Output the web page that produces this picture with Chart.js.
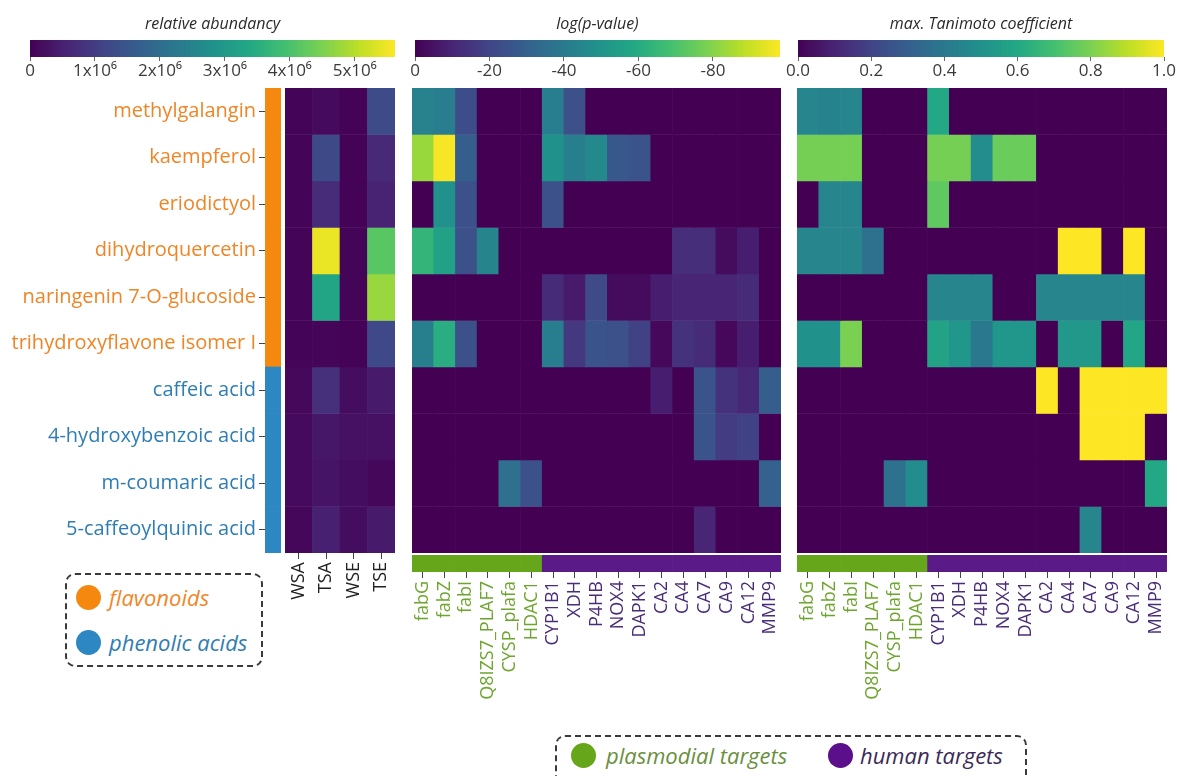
<!DOCTYPE html>
<html>
<head>
<meta charset="utf-8">
<script src="https://cdn.jsdelivr.net/npm/chart.js@4.4.0/dist/chart.umd.min.js"></script>
<style>
  html, body { margin: 0; padding: 0; background: #fff; width: 1177px; height: 776px; overflow: hidden;
    font-family: 'Open Sans', sans-serif; }
  canvas { position: absolute; }
  .legend { position: absolute; border: 2px dashed #3a3a3a; border-radius: 10px; box-sizing: border-box; }
  .dot { position: absolute; border-radius: 50%; }
  .lbl { position: absolute; font-style: italic; white-space: nowrap; }
</style>
</head>
<body>
<div class="legend" style="left:65px;top:573px;width:198px;height:94px;"></div>
<div class="dot" style="left:76px;top:585px;width:25px;height:25px;background:#f5890f;"></div>
<div class="lbl" style="left:109px;top:582px;line-height:30px;font-size:22px;color:#f0872a;">flavonoids</div>
<div class="dot" style="left:76px;top:630px;width:25px;height:25px;background:#2d87c2;"></div>
<div class="lbl" style="left:109px;top:627px;line-height:30px;font-size:22px;color:#2f7db0;">phenolic acids</div>

<div class="legend" style="left:555px;top:735px;width:472px;height:70px;"></div>
<div class="dot" style="left:571px;top:743px;width:25px;height:25px;background:#66a61a;"></div>
<div class="lbl" style="left:606px;top:740px;line-height:30px;font-size:22px;color:#6a8f3d;">plasmodial targets</div>
<div class="dot" style="left:828px;top:743px;width:25px;height:25px;background:#5c0f8b;"></div>
<div class="lbl" style="left:860px;top:740px;line-height:30px;font-size:22px;color:#3b2a58;">human targets</div>

<script>
// ---- compounds (rows) ----
const compounds = ['methylgalangin', 'kaempferol', 'eriodictyol', 'dihydroquercetin',
  'naringenin 7-O-glucoside', 'trihydroxyflavone isomer I', 'caffeic acid',
  '4-hydroxybenzoic acid', 'm-coumaric acid', '5-caffeoylquinic acid'];
const compoundClass = ['flavonoid', 'flavonoid', 'flavonoid', 'flavonoid', 'flavonoid', 'flavonoid',
  'phenolic', 'phenolic', 'phenolic', 'phenolic'];

// ---- extracts (left panel columns) ----
const extracts = ['WSA', 'TSA', 'WSE', 'TSE'];
const abundWSA = [0.05e6, 0.05e6, 0.05e6, 0.05e6, 0.05e6, 0.05e6, 0.12e6, 0.15e6, 0.15e6, 0.10e6];
const abundTSA = [0.15e6, 1.25e6, 0.70e6, 5.45e6, 3.30e6, 0.08e6, 0.75e6, 0.35e6, 0.30e6, 0.50e6];
const abundWSE = [0.03e6, 0.03e6, 0.03e6, 0.05e6, 0.05e6, 0.03e6, 0.20e6, 0.25e6, 0.20e6, 0.20e6];
const abundTSE = [1.30e6, 0.65e6, 0.55e6, 4.15e6, 4.75e6, 1.20e6, 0.40e6, 0.25e6, 0.10e6, 0.40e6];
const abundMax = 5.62e6;
const abundTicks = [0, 1e6, 2e6, 3e6, 4e6, 5e6];

// ---- targets (middle / right panel columns) ----
const targets = ['fabG', 'fabZ', 'fabI', 'Q8IZS7_PLAF7', 'CYSP_plafa', 'HDAC1', 'CYP1B1', 'XDH',
  'P4HB', 'NOX4', 'DAPK1', 'CA2', 'CA4', 'CA7', 'CA9', 'CA12', 'MMP9'];
const targetGroup = ['plasmodial', 'plasmodial', 'plasmodial', 'plasmodial', 'plasmodial', 'plasmodial',
  'human', 'human', 'human', 'human', 'human', 'human', 'human', 'human', 'human', 'human', 'human'];

// log(p-value) per compound, in target order
const logP_methylgalangin   = [-43, -41, -23, 0, 0, 0, -41, -24, 0, 0, 0, 0, 0, 0, 0, 0, 0];
const logP_kaempferol       = [-83, -97, -29, 0, 0, 0, -49, -42, -46, -27, -25, 0, 0, 0, 0, 0, 0];
const logP_eriodictyol      = [0, -49, -24, 0, 0, 0, -24, 0, 0, 0, 0, 0, 0, 0, 0, 0, 0];
const logP_dihydroquercetin = [-64, -56, -24, -44, 0, 0, 0, 0, 0, 0, 0, 0, -13, -13, -3, -8, 0];
const logP_naringeninGluc   = [0, 0, 0, 0, 0, 0, -12, -7, -22, -3, -3, -8, -10, -10, -10, -12, 0];
const logP_trihydroxyflav   = [-42, -61, -24, 0, 0, 0, -41, -16, -25, -24, -19, -2, -14, -12, -2, -8, 0];
const logP_caffeic          = [0, 0, 0, 0, 0, 0, 0, 0, 0, 0, 0, -8, 0, -25, -14, -11, -29];
const logP_hydroxybenzoic   = [0, 0, 0, 0, 0, 0, 0, 0, 0, 0, 0, 0, 0, -25, -17, -19, 0];
const logP_mCoumaric        = [0, 0, 0, 0, -36, -24, 0, 0, 0, 0, 0, 0, 0, 0, 0, 0, -30];
const logP_caffeoylquinic   = [0, 0, 0, 0, 0, 0, 0, 0, 0, 0, 0, 0, 0, -10, 0, 0, 0];
const logPMin = -98;
const logPTicks = [0, -20, -40, -60, -80];

// max. Tanimoto coefficient per compound, in target order
const tani_methylgalangin   = [0.45, 0.44, 0.45, 0, 0, 0, 0.60, 0, 0, 0, 0, 0, 0, 0, 0, 0, 0];
const tani_kaempferol       = [0.79, 0.79, 0.79, 0, 0, 0, 0.79, 0.79, 0.48, 0.77, 0.77, 0, 0, 0, 0, 0, 0];
const tani_eriodictyol      = [0, 0.45, 0.45, 0, 0, 0, 0.75, 0, 0, 0, 0, 0, 0, 0, 0, 0, 0];
const tani_dihydroquercetin = [0.45, 0.45, 0.45, 0.37, 0, 0, 0, 0, 0, 0, 0, 0, 1, 1, 0, 1, 0];
const tani_naringeninGluc   = [0, 0, 0, 0, 0, 0, 0.45, 0.45, 0.45, 0, 0, 0.45, 0.45, 0.45, 0.45, 0.45, 0];
const tani_trihydroxyflav   = [0.50, 0.50, 0.80, 0, 0, 0, 0.58, 0.52, 0.40, 0.52, 0.52, 0, 0.53, 0.53, 0, 0.59, 0];
const tani_caffeic          = [0, 0, 0, 0, 0, 0, 0, 0, 0, 0, 0, 1, 0, 1, 1, 1, 1];
const tani_hydroxybenzoic   = [0, 0, 0, 0, 0, 0, 0, 0, 0, 0, 0, 0, 0, 1, 1, 1, 0];
const tani_mCoumaric        = [0, 0, 0, 0, 0.37, 0.48, 0, 0, 0, 0, 0, 0, 0, 0, 0, 0, 0.60];
const tani_caffeoylquinic   = [0, 0, 0, 0, 0, 0, 0, 0, 0, 0, 0, 0, 0, 0.45, 0, 0, 0];
const taniTicks = [0, 0.2, 0.4, 0.6, 0.8, 1.0];

// ---- assembled matrices (rows = compounds) ----
const abundRows = compounds.map((_, r) => [abundWSA[r], abundTSA[r], abundWSE[r], abundTSE[r]]);
const logPRows = [logP_methylgalangin, logP_kaempferol, logP_eriodictyol, logP_dihydroquercetin,
  logP_naringeninGluc, logP_trihydroxyflav, logP_caffeic, logP_hydroxybenzoic, logP_mCoumaric, logP_caffeoylquinic];
const taniRows = [tani_methylgalangin, tani_kaempferol, tani_eriodictyol, tani_dihydroquercetin,
  tani_naringeninGluc, tani_trihydroxyflav, tani_caffeic, tani_hydroxybenzoic, tani_mCoumaric, tani_caffeoylquinic];

// ---- colours ----
const VIRIDIS = ['#440154', '#482475', '#414487', '#355f8d', '#2a788e', '#21918c',
  '#22a884', '#44bf70', '#7ad151', '#bddf26', '#fde725'];
function hexRgb(h) { return [1, 3, 5].map(i => parseInt(h.slice(i, i + 2), 16)); }
function viridis(t) {
  t = Math.max(0, Math.min(1, t));
  const p = t * 10, i = Math.min(9, Math.floor(p)), f = p - i;
  const a = hexRgb(VIRIDIS[i]), b = hexRgb(VIRIDIS[i + 1]);
  const c = a.map((v, k) => Math.round(v + (b[k] - v) * f));
  return `rgb(${c[0]},${c[1]},${c[2]})`;
}
const CLASS_COLOR = { flavonoid: '#f5890f', phenolic: '#2d87c2' };
const CLASS_TEXT = { flavonoid: '#ef8526', phenolic: '#2e7db3' };
const GROUP_COLOR = { plasmodial: '#66a61a', human: '#5a1a88' };
const GROUP_TEXT = { plasmodial: '#6ea52e', human: '#4a2d7a' };

Chart.defaults.font.family = "'Open Sans', sans-serif";
Chart.defaults.animation = false;
Chart.defaults.plugins.legend.display = false;
Chart.defaults.plugins.tooltip.enabled = false;

function makeCanvas(left, top, width, height) {
  const c = document.createElement('canvas');
  c.width = width; c.height = height;
  c.style.left = left + 'px'; c.style.top = top + 'px';
  c.style.width = width + 'px'; c.style.height = height + 'px';
  document.body.appendChild(c);
  return c;
}

// ---- colour bars ----
const colorbarFill = {
  id: 'colorbarFill',
  beforeDatasetsDraw(chart) {
    const { ctx, chartArea: a } = chart;
    const g = ctx.createLinearGradient(a.left, 0, a.right, 0);
    VIRIDIS.forEach((c, i) => g.addColorStop(i / (VIRIDIS.length - 1), c));
    ctx.save();
    ctx.fillStyle = g;
    ctx.fillRect(a.left, a.top, a.right - a.left, a.bottom - a.top);
    ctx.restore();
  }
};

function colorbar(barLeft, barRight, title, min, max, reverse, tickVals, fmt) {
  const pad = 22;
  const c = makeCanvas(barLeft - pad, 0, barRight - barLeft + 2 * pad, 92);
  new Chart(c, {
    type: 'scatter',
    data: { datasets: [] },
    plugins: [colorbarFill],
    options: {
      responsive: false,
      devicePixelRatio: 1,
      layout: { padding: { left: pad, right: pad, top: 0, bottom: 0 } },
      plugins: {
        title: { display: true, text: title, color: '#2a2a2a',
          font: { size: 16, style: 'italic', weight: 'normal', lineHeight: 1.2 },
          padding: { top: 14.4, bottom: 6.4 } }
      },
      scales: {
        y: { display: false, min: 0, max: 1 },
        x: {
          type: 'linear', min: min, max: max, reverse: reverse,
          border: { display: false },
          grid: { display: true, drawOnChartArea: false, drawTicks: true, tickLength: 4, color: '#666' },
          afterBuildTicks: s => { s.ticks = tickVals.map(v => ({ value: v })); },
          afterFit: s => { s.height = 35; },
          ticks: { color: '#3a3a3a', font: { size: 17 }, padding: 0, maxRotation: 0, autoSkip: false,
            callback: v => fmt(v) }
        }
      }
    }
  });
}
colorbar(30, 395, 'relative abundancy', 0, abundMax, false, abundTicks,
  v => v === 0 ? '0' : (v / 1e6) + 'x10\u2076');
colorbar(415, 780, 'log(p-value)', logPMin, 0, true, logPTicks, v => String(v));
colorbar(798, 1164, 'max. Tanimoto coefficient', 0, 1, false, taniTicks, v => v.toFixed(1));

// ---- heatmap cells: one floating-bar dataset per compound row ----
function heatDatasets(rows, colourOf) {
  return rows.map((vals, r) => ({
    data: vals.map(() => [r, r + 1]),
    backgroundColor: vals.map(v => colourOf(v)),
    borderWidth: 0,
    barPercentage: 1,
    categoryPercentage: 1,
    grouped: false
  }));
}

const SIDE = 20; // spare canvas room left/right for rotated tick labels

function heatmap(left, top, width, height, labels, rows, colourOf, xAxis) {
  const axisH = xAxis ? xAxis.height : 0;
  const c = makeCanvas(left - SIDE, top, width + 2 * SIDE, height + axisH);
  new Chart(c, {
    type: 'bar',
    data: { labels: labels, datasets: heatDatasets(rows, colourOf) },
    options: {
      responsive: false,
      devicePixelRatio: 1,
      layout: { padding: { left: SIDE, right: SIDE, top: 0, bottom: 0 } },
      scales: {
        y: { display: false, min: 0, max: rows.length, reverse: true },
        x: xAxis ? {
          border: { display: false },
          grid: { display: true, drawOnChartArea: false, offset: false, tickLength: 6, color: '#444' },
          afterFit: s => { s.height = axisH; },
          ticks: { color: '#222', font: { size: 18 }, padding: 3, minRotation: 90, maxRotation: 90, autoSkip: false }
        } : { display: false }
      }
    }
  });
}

const TOP = 88, H = 465;

// left panel: compound names + class strip
(function () {
  const vpad = 16;
  const c = makeCanvas(0, TOP - vpad, 281, H + 2 * vpad);
  new Chart(c, {
    type: 'bar',
    data: {
      labels: compounds,
      datasets: [{
        data: compounds.map(() => 1),
        backgroundColor: compoundClass.map(k => CLASS_COLOR[k]),
        borderWidth: 0, barPercentage: 1, categoryPercentage: 1
      }]
    },
    options: {
      indexAxis: 'y',
      responsive: false,
      devicePixelRatio: 1,
      layout: { padding: { left: 0, right: 0, top: vpad, bottom: vpad } },
      scales: {
        x: { display: false, min: 0, max: 1 },
        y: {
          border: { display: false },
          grid: { display: true, drawOnChartArea: false, offset: false, tickLength: 6, color: '#444' },
          afterFit: s => { s.width = 265; },
          ticks: { font: { size: 20 }, padding: 3, autoSkip: false,
            color: ctx => CLASS_TEXT[compoundClass[ctx.index]] }
        }
      }
    }
  });
})();

heatmap(285, TOP, 110, H, extracts, abundRows, v => viridis(v / abundMax), { height: 60 });
heatmap(412, TOP, 369, H, targets, logPRows, v => viridis(v / logPMin), null);
heatmap(797, TOP, 370, H, targets, taniRows, v => viridis(v), null);

// target-group strips with target names below
function groupStrip(left, width) {
  const stripH = 17, axisH = 140;
  const c = makeCanvas(left - SIDE, 555, width + 2 * SIDE, stripH + axisH);
  new Chart(c, {
    type: 'bar',
    data: {
      labels: targets,
      datasets: [{
        data: targets.map(() => 1),
        backgroundColor: targetGroup.map(g => GROUP_COLOR[g]),
        borderWidth: 0, barPercentage: 1, categoryPercentage: 1
      }]
    },
    options: {
      responsive: false,
      devicePixelRatio: 1,
      layout: { padding: { left: SIDE, right: SIDE, top: 0, bottom: 0 } },
      scales: {
        y: { display: false, min: 0, max: 1 },
        x: {
          border: { display: false },
          grid: { display: true, drawOnChartArea: false, offset: false, tickLength: 6, color: '#444' },
          afterFit: s => { s.height = axisH; },
          ticks: { font: { size: 18 }, padding: 3, minRotation: 90, maxRotation: 90, autoSkip: false,
            color: ctx => GROUP_TEXT[targetGroup[ctx.index]] }
        }
      }
    }
  });
}
groupStrip(412, 369);
groupStrip(797, 370);
</script>
</body>
</html>
